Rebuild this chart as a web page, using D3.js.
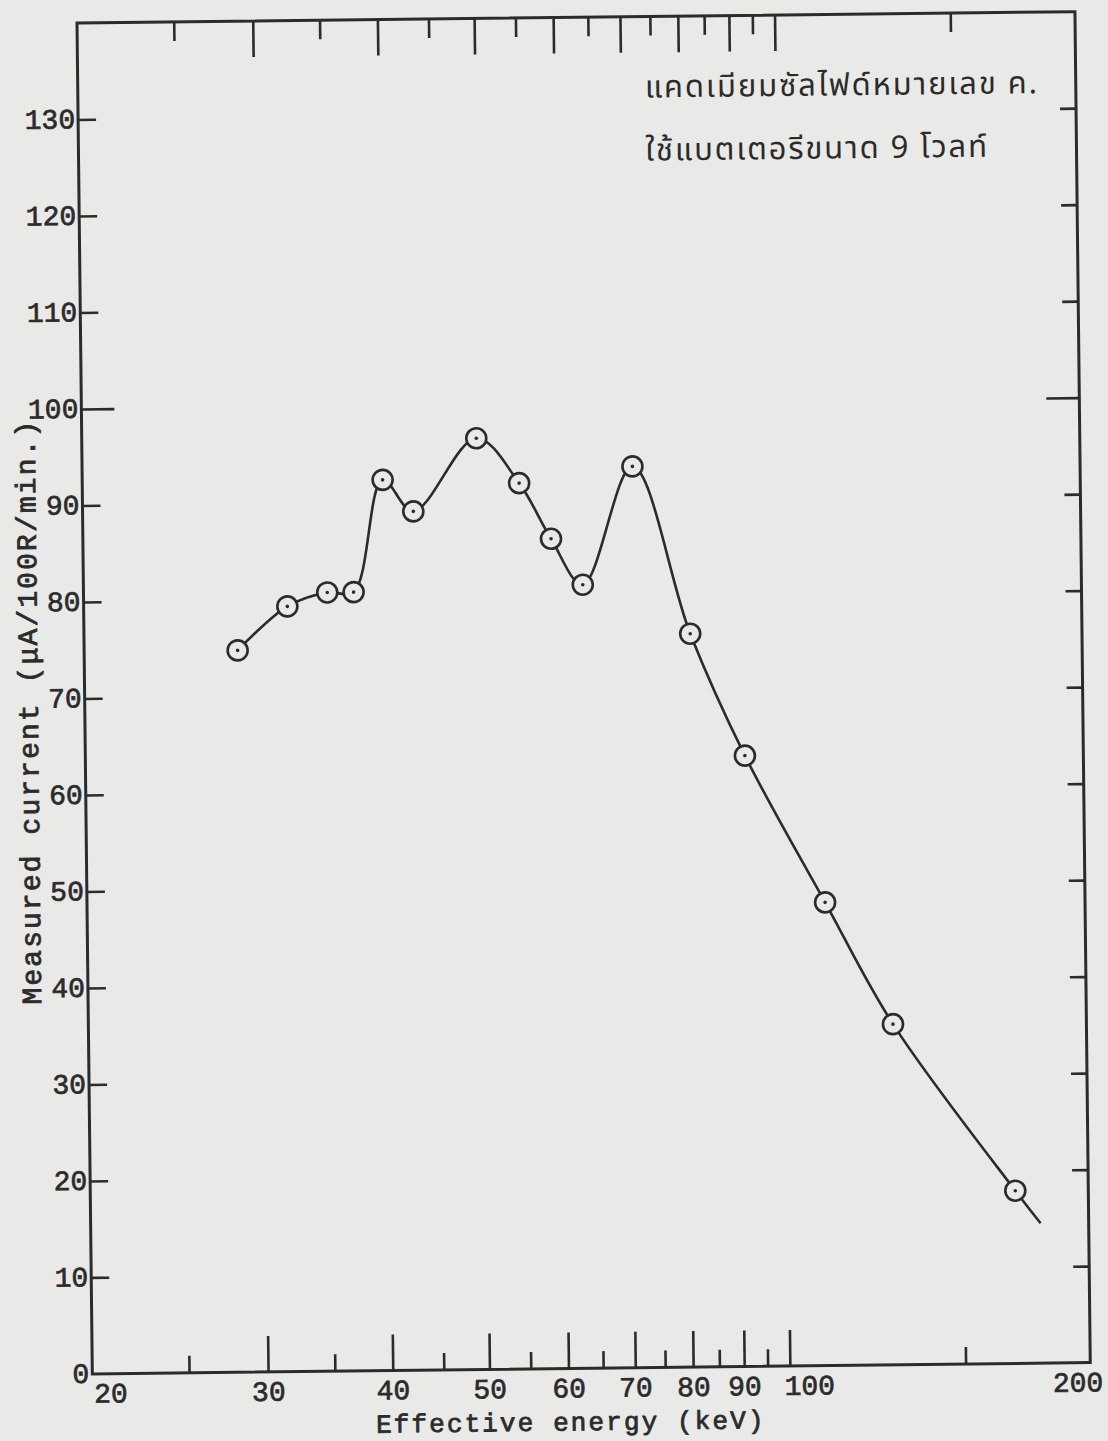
<!DOCTYPE html>
<html>
<head>
<meta charset="utf-8">
<script src="https://cdn.jsdelivr.net/npm/d3@7"></script>
<style>
  html, body { margin: 0; padding: 0; background: #e9e9e7; }
  svg { display: block; }
  .num { font-family: "Liberation Mono", "DejaVu Sans Mono", monospace; font-size: 28px; fill: #2b2b2b; stroke: #2b2b2b; stroke-width: 0.7px; }
  .title { font-family: "Liberation Mono", "DejaVu Sans Mono", monospace; font-size: 28px; fill: #2b2b2b; stroke: #2b2b2b; stroke-width: 0.8px; }
  .xtitle { font-size: 26px; }
  .note { font-family: "Noto Sans Thai", "Noto Sans", "DejaVu Sans", sans-serif; font-size: 31px; fill: #2b2b2b; letter-spacing: 1.9px; }
</style>
</head>
<body>
<svg id="chart" width="1108" height="1441"></svg>
<script>
// Measured current of the CdS cell against effective X-ray energy
const energyKeV = [28.5, 32.0, 35.1, 37.3, 40.0, 42.9, 49.7, 54.8, 58.9, 63.3, 71.2, 81.0, 91.6, 109.8, 128, 169];
const currentMicroA = [74.8, 79.3, 80.7, 80.7, 92.3, 89.0, 96.5, 91.8, 86.0, 81.2, 93.4, 76.0, 63.3, 48.0, 35.3, 17.9];
// where the drawn curve runs on past the last measurement
const tailEnergyKeV = [179];
const tailCurrentMicroA = [14.5];

const xMajorTicks = [30, 40, 50, 60, 70, 80, 90, 100];
const xMinorTicks = [25, 35, 45, 55, 65, 75, 85, 95, 150];
const xTickLabels = [20, 30, 40, 50, 60, 70, 80, 90, 100, 200];
const yTicks = [10, 20, 30, 40, 50, 60, 70, 80, 90, 100, 110, 120, 130];
const yTickLabels = [0, 10, 20, 30, 40, 50, 60, 70, 80, 90, 100, 110, 120, 130];
const yLongTicks = [100];

const xTitle = "Effective energy (keV)";
const yTitle = "Measured current (\u03bcA/100R/min.)";
const noteLines = ["แคดเมียมซัลไฟด์หมายเลข ค.", "ใช้แบตเตอรีขนาด 9 โวลท์"];

// frame geometry (the sheet sits slightly skewed on the page)
const origin = { x: 77, y: 23 };
const W = 998, H = 1351, tilt = -0.65;
const ink = "#2b2b2b";
const paper = "#e9e9e7";

const svg = d3.select("#chart");
const g = svg.append("g")
  .attr("transform", `translate(${origin.x},${origin.y}) rotate(${tilt})`);

const x = d3.scaleLog().domain([20, 200]).range([0, W]);
const y = d3.scaleLinear().domain([0, 140]).range([H, 0]);

function styleTicks(sel) {
  sel.select(".domain").remove();
  sel.selectAll(".tick line").attr("stroke", ink).attr("stroke-width", 2.6);
  sel.selectAll(".tick text").remove();
}

// bottom ticks, pointing up into the plot
g.append("g").attr("transform", `translate(0,${H})`)
  .call(d3.axisBottom(x).tickValues(xMajorTicks).tickSize(-36).tickSizeOuter(0)).call(styleTicks);
g.append("g").attr("transform", `translate(0,${H})`)
  .call(d3.axisBottom(x).tickValues(xMinorTicks).tickSize(-17).tickSizeOuter(0)).call(styleTicks);
// top ticks, pointing down
g.append("g")
  .call(d3.axisTop(x).tickValues(xMajorTicks).tickSize(-36).tickSizeOuter(0)).call(styleTicks);
g.append("g")
  .call(d3.axisTop(x).tickValues(xMinorTicks).tickSize(-19).tickSizeOuter(0)).call(styleTicks);

// left / right ticks, inward
const yShort = yTicks.filter(v => !yLongTicks.includes(v));
g.append("g").call(d3.axisLeft(y).tickValues(yShort).tickSize(-18).tickSizeOuter(0)).call(styleTicks);
g.append("g").call(d3.axisLeft(y).tickValues(yLongTicks).tickSize(-33).tickSizeOuter(0)).call(styleTicks);
g.append("g").attr("transform", `translate(${W},0)`)
  .call(d3.axisRight(y).tickValues(yShort).tickSize(-16).tickSizeOuter(0)).call(styleTicks);
g.append("g").attr("transform", `translate(${W},0)`)
  .call(d3.axisRight(y).tickValues(yLongTicks).tickSize(-33).tickSizeOuter(0)).call(styleTicks);

// frame
g.append("rect").attr("x", 0).attr("y", 0).attr("width", W).attr("height", H)
  .attr("fill", "none").attr("stroke", ink).attr("stroke-width", 3);

// x tick labels
const xLab = g.append("g").attr("transform", `translate(0,${H})`)
  .call(d3.axisBottom(x).tickValues(xTickLabels).tickSize(0).tickPadding(9)
    .tickFormat(d3.format("d")));
xLab.select(".domain").remove();
xLab.selectAll(".tick text").attr("class", "num").attr("font-size", null).attr("font-family", null)
  .attr("fill", null)
  .attr("text-anchor", d => (d === 20 || d === 100) ? "start" : "middle")
  .attr("dx", d => d === 20 ? 1 : (d === 100 ? -6 : (d === 200 ? -13 : 0)));

// y tick labels
const yLab = g.append("g")
  .call(d3.axisLeft(y).tickValues(yTickLabels).tickSize(0).tickPadding(3)
    .tickFormat(d3.format("d")));
yLab.select(".domain").remove();
yLab.selectAll(".tick text").attr("class", "num").attr("font-size", null).attr("font-family", null)
  .attr("fill", null).attr("dy", "0.3em");

// axis titles
g.append("text").attr("class", "title xtitle")
  .attr("x", x(50)).attr("y", H + 62)
  .attr("text-anchor", "start").attr("dx", -114)
  .style("letter-spacing", "2.1px")
  .text(xTitle);

g.append("text").attr("class", "title")
  .attr("transform", `translate(-47,${y(68.7)}) rotate(-90)`)
  .attr("text-anchor", "middle")
  .style("letter-spacing", "2.1px")
  .text(yTitle);

// annotation
g.append("g").selectAll("text").data(noteLines).join("text")
  .attr("class", "note")
  .attr("x", 567)
  .attr("y", (d, i) => 81 + i * 63)
  .text(d => d);

// curve
const pts = energyKeV.map((e, i) => [e, currentMicroA[i]]);
const curvePts = pts.concat(tailEnergyKeV.map((e, i) => [e, tailCurrentMicroA[i]]));
const line = d3.line().x(d => x(d[0])).y(d => y(d[1])).curve(d3.curveCatmullRom.alpha(0.5));
g.append("path").datum(curvePts).attr("d", line)
  .attr("fill", "none").attr("stroke", ink).attr("stroke-width", 2.6).attr("stroke-linejoin", "round");

// markers: open circle with a centre dot
const mk = g.append("g").selectAll("g").data(pts).join("g")
  .attr("transform", d => `translate(${x(d[0])},${y(d[1])})`);
mk.append("circle").attr("r", 10).attr("fill", paper).attr("stroke", ink).attr("stroke-width", 2.6);
mk.append("circle").attr("r", 1.8).attr("fill", ink);
</script>
</body>
</html>
